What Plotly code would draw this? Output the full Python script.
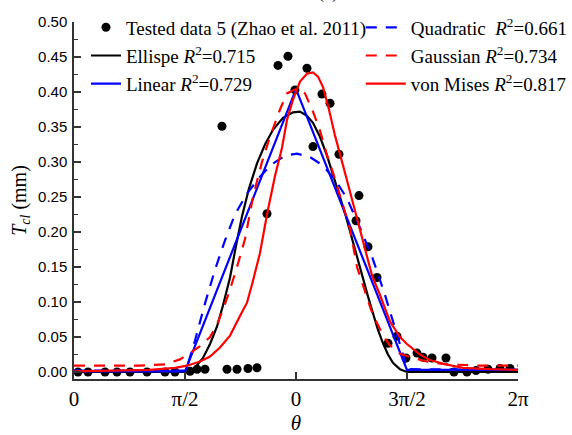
import numpy as np
import plotly.graph_objects as go

# ---- data (theta in radians, T_cl in mm) ----
data_theta = [0.057, 0.198, 0.439, 0.608, 0.792, 1.033, 1.288, 1.429, 1.642, 1.741, 1.854,
              2.094, 2.165, 2.307, 2.462, 2.590, 2.731, 2.887, 3.028, 3.127, 3.297, 3.382,
              3.509, 3.623, 3.750, 3.991, 4.033, 4.160, 4.288, 4.443, 4.571, 4.698, 4.854,
              4.939, 5.066, 5.264, 5.377, 5.561, 5.689, 5.859, 6.028, 6.170]
data_tcl = [0.000, 0.000, 0.000, 0.000, 0.000, 0.000, 0.000, 0.000, 0.001, 0.004, 0.004,
            0.351, 0.004, 0.004, 0.005, 0.006, 0.226, 0.438, 0.451, 0.403, 0.434, 0.322,
            0.397, 0.384, 0.311, 0.216, 0.252, 0.179, 0.135, 0.041, 0.051, 0.020, 0.027,
            0.021, 0.020, 0.020, 0.000, 0.000, 0.002, 0.004, 0.005, 0.005]

ellipse_theta = [0.0, 1.642, 1.684, 1.825, 1.925, 2.024, 2.108, 2.208, 2.292, 2.377, 2.476,
                 2.590, 2.703, 2.816, 2.958, 3.099, 3.198, 3.297, 3.382, 3.481, 3.580, 3.665,
                 3.764, 3.849, 3.934, 4.019, 4.090, 4.160, 4.231, 4.302, 4.373, 4.443, 4.514,
                 4.613, 4.712, 6.283]
ellipse_tcl = [0.0, 0.0, 0.003, 0.020, 0.040, 0.065, 0.095, 0.135, 0.180, 0.222, 0.262,
               0.298, 0.325, 0.346, 0.363, 0.371, 0.372, 0.366, 0.356, 0.336, 0.309, 0.280,
               0.250, 0.222, 0.190, 0.160, 0.135, 0.108, 0.084, 0.060, 0.041, 0.025, 0.013,
               0.004, 0.0, 0.0]

linear_theta = [0.0, 1.571, 3.142, 4.712, 6.283]
linear_tcl = [0.001, 0.001, 0.404, 0.003, 0.003]

quad_theta = [0.0, 1.585, 1.712, 1.854, 1.995, 2.137, 2.278, 2.448, 2.632, 2.802, 2.986,
              3.156, 3.340, 3.509, 3.693, 3.863, 4.047, 4.217, 4.401, 4.542, 4.641, 4.712, 6.283]
quad_tcl = [0.002, 0.002, 0.045, 0.098, 0.146, 0.188, 0.225, 0.255, 0.279, 0.297, 0.309,
            0.312, 0.307, 0.296, 0.275, 0.248, 0.206, 0.165, 0.110, 0.065, 0.030, 0.004, 0.003]

gauss_theta = [0.0, 0.934, 1.288, 1.500, 1.642, 1.783, 1.925, 2.024, 2.108, 2.208, 2.307,
               2.420, 2.533, 2.660, 2.774, 2.915, 3.014, 3.156, 3.269, 3.382, 3.481, 3.580,
               3.665, 3.764, 3.906, 4.005, 4.118, 4.203, 4.288, 4.387, 4.472, 4.613, 4.797,
               5.038, 5.278, 5.745, 6.283]
gauss_tcl = [0.009, 0.009, 0.011, 0.018, 0.027, 0.037, 0.050, 0.068, 0.089, 0.118, 0.150,
             0.190, 0.250, 0.300, 0.336, 0.375, 0.398, 0.405, 0.398, 0.372, 0.345, 0.310,
             0.285, 0.252, 0.205, 0.150, 0.115, 0.089, 0.070, 0.050, 0.038, 0.026, 0.020,
             0.014, 0.011, 0.009, 0.009]

vm_theta = [0.0, 0.651, 1.075, 1.429, 1.599, 1.783, 1.925, 2.066, 2.208, 2.349, 2.448,
            2.519, 2.632, 2.731, 2.844, 2.943, 3.014, 3.099, 3.198, 3.297, 3.382, 3.453,
            3.524, 3.608, 3.693, 3.863, 4.047, 4.217, 4.330, 4.472, 4.613, 4.712, 4.896,
            5.038, 5.250, 5.505, 5.887, 6.283]
vm_tcl = [0.001, 0.002, 0.003, 0.006, 0.009, 0.015, 0.022, 0.035, 0.052, 0.080, 0.099,
          0.125, 0.170, 0.225, 0.280, 0.320, 0.360, 0.389, 0.415, 0.426, 0.428, 0.422,
          0.407, 0.375, 0.338, 0.274, 0.203, 0.138, 0.110, 0.072, 0.050, 0.040, 0.025,
          0.017, 0.011, 0.006, 0.004, 0.003]

xtick_vals = [0, np.pi / 2, np.pi, 3 * np.pi / 2, 2 * np.pi]
xtick_text = ["0", "π/2", "0", "3π/2", "2π"]

names = {
    "data": "Tested data 5 (Zhao et al. 2011)",
    "ell": "Ellispe <i>R</i><sup>2</sup>=0.715",
    "lin": "Linear <i>R</i><sup>2</sup>=0.729",
    "quad": "Quadratic  <i>R</i><sup>2</sup>=0.661",
    "gauss": "Gaussian <i>R</i><sup>2</sup>=0.734",
    "vm": "von Mises <i>R</i><sup>2</sup>=0.817",
}

SERIF = "Times New Roman, Liberation Serif, DejaVu Serif, serif"
SANS = "Arial, Liberation Sans, sans-serif"
LW = 2.2

fig = go.Figure()
fig.add_trace(go.Scatter(x=data_theta, y=data_tcl, mode="markers", name=names["data"],
                         marker=dict(color="black", size=9), legend="legend", legendgroup="a"))
fig.add_trace(go.Scatter(x=ellipse_theta, y=ellipse_tcl, mode="lines", name=names["ell"],
                         line=dict(color="black", width=LW), legend="legend", legendgroup="b"))
fig.add_trace(go.Scatter(x=linear_theta, y=linear_tcl, mode="lines", name=names["lin"],
                         line=dict(color="#0000FF", width=LW), legend="legend", legendgroup="c"))
fig.add_trace(go.Scatter(x=quad_theta, y=quad_tcl, mode="lines", name=names["quad"],
                         line=dict(color="#0000FF", width=LW, dash="11px,9px"),
                         legend="legend2", legendgroup="d"))
fig.add_trace(go.Scatter(x=gauss_theta, y=gauss_tcl, mode="lines", name=names["gauss"],
                         line=dict(color="#FF0000", width=LW, dash="11px,9px"),
                         legend="legend2", legendgroup="e"))
fig.add_trace(go.Scatter(x=vm_theta, y=vm_tcl, mode="lines", name=names["vm"],
                         line=dict(color="#FF0000", width=LW),
                         legend="legend2", legendgroup="f"))

legend_common = dict(
    font=dict(family=SERIF, size=19, color="black"),
    bgcolor="rgba(0,0,0,0)", borderwidth=0,
    yanchor="top", xanchor="left", traceorder="grouped",
    tracegroupgap=0.5,
)

fig.update_layout(
    width=572, height=435,
    margin=dict(l=74, r=54, t=22, b=56, autoexpand=False),
    paper_bgcolor="white", plot_bgcolor="white",
    showlegend=True,
    legend=dict(x=0.027, y=1.038, itemwidth=30, **legend_common),
    legend2=dict(x=0.646, y=1.038, itemwidth=40, **legend_common),
    font=dict(family=SERIF, color="black"),
    xaxis=dict(
        range=[0, 2 * np.pi], tickvals=xtick_vals, ticktext=xtick_text,
        showline=True, linecolor="#333", linewidth=1.5, mirror=False,
        ticks="inside", ticklen=7, tickwidth=1.5, tickcolor="#333",
        showgrid=False, zeroline=False,
        tickfont=dict(family=SERIF, size=21, color="black"),
        title=dict(text="<i>θ</i>", font=dict(family=SERIF, size=21, color="black"), standoff=4),
    ),
    yaxis=dict(
        range=[-0.01, 0.5], tick0=0, dtick=0.05, tickformat=".2f",
        showline=True, linecolor="#333", linewidth=1.5, mirror=False,
        ticks="inside", ticklen=7, tickwidth=1.5, tickcolor="#333",
        minor=dict(ticks="inside", ticklen=4, dtick=0.025, tickwidth=1.2, tickcolor="#333"),
        showgrid=False, zeroline=False,
        tickfont=dict(family=SANS, size=15, color="black"),
        ticklabelstandoff=2,
        title=dict(text="<i>T</i><sub><i>cl</i></sub> (mm)",
                   font=dict(family=SERIF, size=20, color="black"), standoff=6),
    ),
    annotations=[dict(text="(e)", xref="paper", yref="paper", x=0.572, y=1.0476,
                      xanchor="center", yanchor="bottom", showarrow=False,
                      font=dict(family=SERIF, size=18, color="black"))],
)

fig.write_html("out.html", config={"displayModeBar": False},
               post_script="document.body.style.margin='0px';")
